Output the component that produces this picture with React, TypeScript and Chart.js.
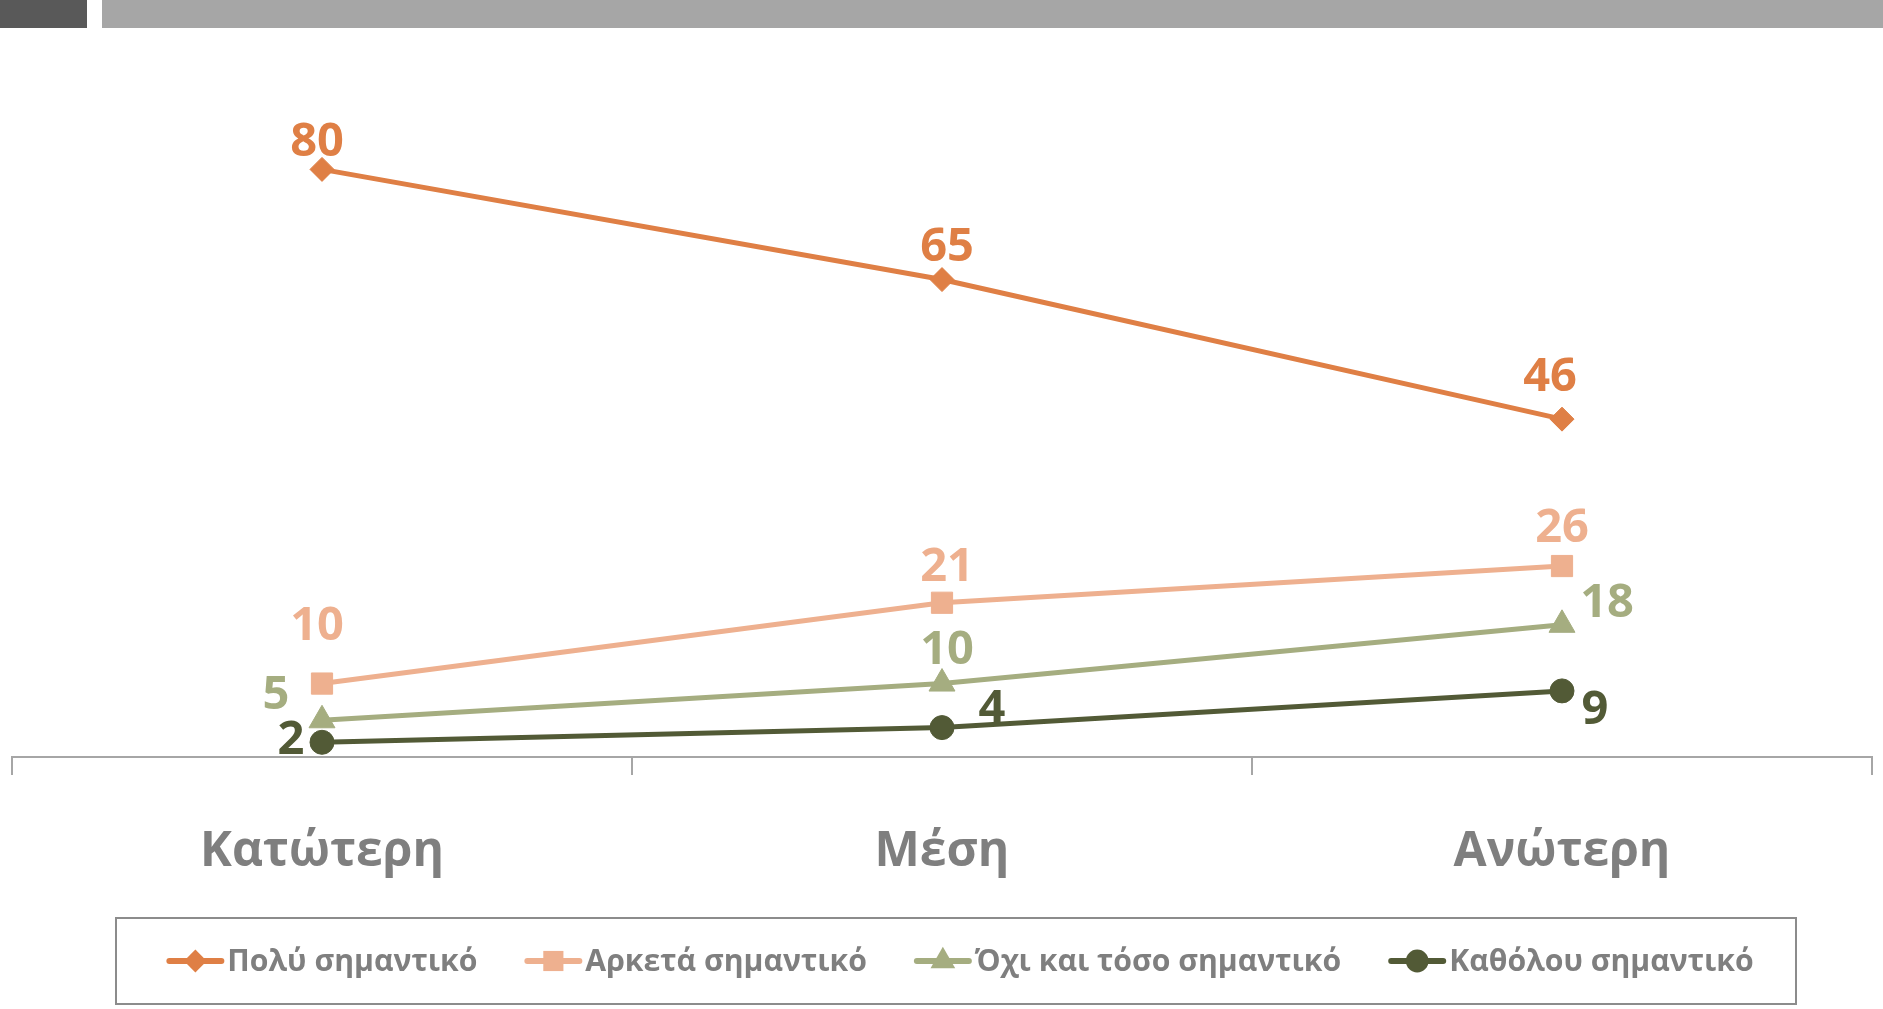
import React, { useEffect, useRef } from "react";
import { Chart, registerables } from "chart.js";

Chart.register(...registerables);

// ---- data ----
const categories = ["Κατώτερη", "Μέση", "Ανώτερη"];
const seriesNames = ["Πολύ σημαντικό", "Αρκετά σημαντικό", "Όχι και τόσο σημαντικό", "Καθόλου σημαντικό"];
const polySimantiko = [80, 65, 46];
const arketaSimantiko = [10, 21, 26];
const ochiKaiTosoSimantiko = [5, 10, 18];
const katholouSimantiko = [2, 4, 9];
const yMin = 0;
const yMax = 100;

// ---- styles ----
const FONT = '"Open Sans", "Noto Sans", sans-serif';
const colors = ["#DF7F45", "#EEB08F", "#A5AD80", "#525A36"];
const pointStyles = ["rectRot", "rect", "triangle", "circle"];
const pointRadii = [12, 15, 15, 12];
// label centre offsets relative to each point (dx, dy)
const labelOffsets = [
  [[-5, -30], [5, -35], [-12, -45]],
  [[-5, -60], [5, -39], [0, -41]],
  [[-46, -28], [5, -36], [45, -25]],
  [[-31, -5], [50, -22], [33, 16]],
];
const labelFontSize = 47;
const gray = "#7F7F7F";
const axisGray = "#A6A6A6";

function drawMarker(ctx: CanvasRenderingContext2D, style: string, x: number, y: number, r: number) {
  ctx.beginPath();
  if (style === "rectRot") {
    ctx.moveTo(x, y - r);
    ctx.lineTo(x + r, y);
    ctx.lineTo(x, y + r);
    ctx.lineTo(x - r, y);
    ctx.closePath();
  } else if (style === "rect") {
    const s = r * Math.SQRT1_2;
    ctx.rect(x - s, y - s, 2 * s, 2 * s);
  } else if (style === "triangle") {
    ctx.moveTo(x, y - r);
    ctx.lineTo(x + r * Math.cos(Math.PI / 6), y + r * 0.5);
    ctx.lineTo(x - r * Math.cos(Math.PI / 6), y + r * 0.5);
    ctx.closePath();
  } else {
    ctx.arc(x, y, r, 0, Math.PI * 2);
  }
  ctx.fill();
}

const topBarPlugin = {
  id: "topBar",
  beforeDraw(chart: any) {
    const ctx = chart.ctx;
    ctx.save();
    ctx.fillStyle = "#595959";
    ctx.fillRect(0, 0, 87, 28);
    ctx.fillStyle = "#A6A6A6";
    ctx.fillRect(102, 0, chart.width - 102, 28);
    ctx.restore();
  },
};

const dataLabelPlugin = {
  id: "dataLabels",
  afterDatasetsDraw(chart: any) {
    const ctx = chart.ctx;
    ctx.save();
    ctx.font = `bold ${labelFontSize}px ${FONT}`;
    ctx.textAlign = "center";
    ctx.textBaseline = "alphabetic";
    chart.data.datasets.forEach((ds: any, i: number) => {
      const meta = chart.getDatasetMeta(i);
      meta.data.forEach((pt: any, j: number) => {
        const [dx, dy] = labelOffsets[i][j];
        ctx.fillStyle = colors[i];
        ctx.fillText(String(ds.data[j]), pt.x + dx, pt.y + dy + labelFontSize * 0.36);
      });
    });
    ctx.restore();
  },
};

const legendPlugin = {
  id: "boxLegend",
  afterDraw(chart: any) {
    const ctx = chart.ctx;
    ctx.save();
    ctx.strokeStyle = "#8C8C8C";
    ctx.lineWidth = 2;
    ctx.strokeRect(116, 918, 1680, 86);
    ctx.font = `bold 30.2px ${FONT}`;
    const lineLen = 58;
    const gapText = 3;
    const gapItem = 47;
    const dss = chart.data.datasets;
    const widths = dss.map((ds: any) => ctx.measureText(ds.label).width);
    const total =
      widths.reduce((a: number, w: number) => a + lineLen + gapText + w, 0) + gapItem * (dss.length - 1);
    let x = 960 - total / 2;
    const y = 961;
    dss.forEach((ds: any, i: number) => {
      ctx.strokeStyle = colors[i];
      ctx.lineWidth = 6;
      ctx.lineCap = "round";
      ctx.beginPath();
      ctx.moveTo(x + 3, y);
      ctx.lineTo(x + lineLen - 3, y);
      ctx.stroke();
      ctx.fillStyle = colors[i];
      drawMarker(ctx, pointStyles[i], x + lineLen / 2, y, pointRadii[i] * 0.95);
      ctx.fillStyle = gray;
      ctx.textAlign = "left";
      ctx.textBaseline = "middle";
      ctx.fillText(ds.label, x + lineLen + gapText, y + 1);
      x += lineLen + gapText + widths[i] + gapItem;
    });
    ctx.restore();
  },
};

export default function App() {
  const ref = useRef<HTMLCanvasElement | null>(null);
  useEffect(() => {
    let chart: Chart | null = null;
    let cancelled = false;
    const make = () => {
      if (cancelled || !ref.current) return;
      const seriesValues = [polySimantiko, arketaSimantiko, ochiKaiTosoSimantiko, katholouSimantiko];
      chart = new Chart(ref.current, {
        type: "line",
        data: {
          labels: categories,
          datasets: seriesValues.map((vals, i) => ({
            label: seriesNames[i],
            data: vals,
            borderColor: colors[i],
            backgroundColor: colors[i],
            borderWidth: 5,
            pointStyle: pointStyles[i] as any,
            pointRadius: pointRadii[i],
            pointBackgroundColor: colors[i],
            pointBorderColor: colors[i],
            pointBorderWidth: 1,
            tension: 0,
            order: -i,
          })),
        },
        options: {
          animation: false,
          responsive: false,
          devicePixelRatio: 1,
          layout: { autoPadding: false, padding: { left: 12, right: 11, top: 22.5, bottom: 109 } },
          plugins: { legend: { display: false }, tooltip: { enabled: false }, title: { display: false } },
          scales: {
            x: {
              offset: true,
              grid: {
                offset: true,
                drawOnChartArea: false,
                drawTicks: true,
                tickLength: 18,
                color: axisGray,
                lineWidth: 2,
              },
              border: { display: true, color: axisGray, width: 2 },
              ticks: {
                color: gray,
                font: { family: FONT, size: 48, weight: "bold" },
                padding: 49,
                maxRotation: 0,
              },
              afterFit(scale: any) {
                scale.height = 143;
              },
            },
            y: { display: false, min: yMin, max: yMax },
          },
        },
        plugins: [topBarPlugin, dataLabelPlugin, legendPlugin],
      });
    };
    const fontsReady = (document as any).fonts
      ? Promise.all([
          (document as any).fonts.load(`bold 44px "Open Sans"`),
          (document as any).fonts.load(`bold 30px "Open Sans"`),
        ]).catch(() => null)
      : Promise.resolve(null);
    fontsReady.then(make);
    return () => {
      cancelled = true;
      if (chart) chart.destroy();
    };
  }, []);
  return (
    <div style={{ position: "fixed", left: 0, top: 0, width: 1883, height: 1009, background: "#fff" }}>
      <canvas ref={ref} width={1883} height={1009} style={{ width: 1883, height: 1009, display: "block" }} />
    </div>
  );
}
